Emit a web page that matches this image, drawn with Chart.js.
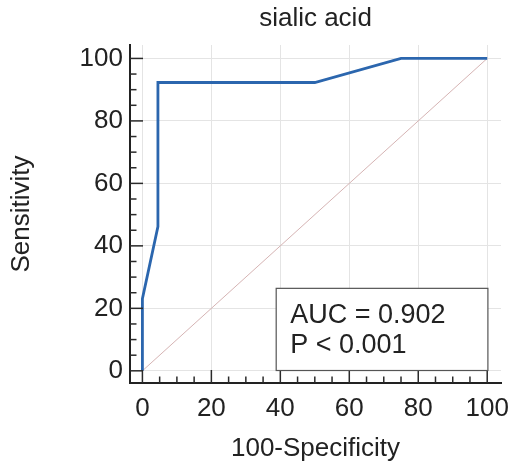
<!DOCTYPE html>
<html>
<head>
<meta charset="utf-8">
<script src="https://cdn.jsdelivr.net/npm/chart.js@4/dist/chart.umd.min.js"></script>
<style>
  html, body { margin: 0; padding: 0; background: #fff; }
  #wrap { width: 510px; height: 463px; }
</style>
</head>
<body>
<div id="wrap"><canvas id="c" width="510" height="463"></canvas></div>
<script>
// ---- data ----
const chartTitle = "sialic acid";
const xAxisTitle = "100-Specificity";
const yAxisTitle = "Sensitivity";
const specComplement = [0, 0, 4.5, 4.5, 50, 75, 100];      // 100-Specificity
const sensitivity    = [0, 23.1, 46.2, 92.3, 92.3, 100, 100];
const refX = [0, 100];
const refY = [0, 100];
const xTicks = [0, 20, 40, 60, 80, 100];
const yTicks = [0, 20, 40, 60, 80, 100];
const statLines = ["AUC = 0.902", "P < 0.001"];

const FONT = "'Liberation Sans', Arial, Helvetica, sans-serif";

const bgPlugin = {
  id: 'bg',
  beforeDraw(chart) {
    const ctx = chart.ctx;
    ctx.save();
    ctx.fillStyle = '#fff';
    ctx.fillRect(0, 0, chart.width, chart.height);
    ctx.restore();
  }
};

const inwardTicks = {
  id: 'inwardTicks',
  afterDatasetsDraw(chart) {
    const ctx = chart.ctx;
    const xs = chart.scales.x, ys = chart.scales.y;
    const ca = chart.chartArea;
    ctx.save();
    ctx.strokeStyle = '#2a2a2a';
    ctx.lineWidth = 1.5;
    for (let v = 0; v <= 100; v += 5) {
      const major = v % 20 === 0;
      const len = major ? 13 : 6.5;
      const py = ys.getPixelForValue(v);
      ctx.beginPath();
      ctx.moveTo(ca.left, py);
      ctx.lineTo(ca.left + len, py);
      ctx.stroke();
      const px = xs.getPixelForValue(v);
      ctx.beginPath();
      ctx.moveTo(px, ca.bottom);
      ctx.lineTo(px, ca.bottom - len);
      ctx.stroke();
    }
    // stats box
    const x0 = xs.getPixelForValue(38.8), x1 = xs.getPixelForValue(100.2);
    const y0 = ys.getPixelForValue(26.4), y1 = ys.getPixelForValue(0.1);
    ctx.fillStyle = '#fff';
    ctx.fillRect(x0, y0, x1 - x0, y1 - y0);
    ctx.strokeStyle = '#555';
    ctx.lineWidth = 1.2;
    ctx.strokeRect(x0, y0, x1 - x0, y1 - y0);
    ctx.fillStyle = '#222';
    ctx.font = '27px ' + FONT;
    ctx.textBaseline = 'alphabetic';
    ctx.textAlign = 'left';
    statLines.forEach((t, i) => {
      ctx.fillText(t, x0 + 14, y0 + 35 + i * 30);
    });
    ctx.restore();
  }
};

new Chart(document.getElementById('c'), {
  type: 'scatter',
  data: {
    datasets: [
      {
        data: refX.map((x, i) => ({x, y: refY[i]})),
        showLine: true,
        borderColor: '#d6b4b4',
        borderWidth: 1,
        pointRadius: 0,
        order: 2
      },
      {
        data: specComplement.map((x, i) => ({x, y: sensitivity[i]})),
        showLine: true,
        borderColor: '#2b66ae',
        borderWidth: 2.8,
        pointRadius: 0,
        order: 1
      }
    ]
  },
  options: {
    responsive: false,
    animation: false,
    layout: { padding: { left: 0, right: 9, top: 0, bottom: 0 } },
    plugins: {
      legend: { display: false },
      tooltip: { enabled: false },
      title: {
        display: true,
        text: chartTitle,
        fullSize: false,
        color: '#222',
        font: { family: FONT, size: 26, weight: 'normal', lineHeight: 1.2 },
        padding: { top: 3.4, bottom: 10.4 }
      }
    },
    scales: {
      x: {
        type: 'linear',
        min: -3.6, max: 104,
        afterBuildTicks(s) { s.ticks = xTicks.map(v => ({value: v})); },
        afterFit(s) { s.height = 80; s.paddingLeft = 0; s.paddingRight = 0; },
        grid: { color: '#e4e4e4', lineWidth: 1, drawTicks: false },
        border: { display: true, color: '#222', width: 2 },
        ticks: { color: '#222', padding: 10, font: { family: FONT, size: 26 }, maxRotation: 0 },
        title: { display: true, text: xAxisTitle, color: '#222',
                 font: { family: FONT, size: 26, lineHeight: 1.1 },
                 padding: { top: 0, bottom: 0 } }
      },
      y: {
        type: 'linear',
        min: -3.9, max: 104.3,
        afterBuildTicks(s) { s.ticks = yTicks.map(v => ({value: v})); },
        afterFit(s) { s.width = 130; s.paddingTop = 0; s.paddingBottom = 0; },
        grid: { color: '#e4e4e4', lineWidth: 1, drawTicks: false },
        border: { display: true, color: '#222', width: 2 },
        ticks: { color: '#222', padding: 7, font: { family: FONT, size: 26 } },
        title: { display: true, text: yAxisTitle, color: '#222',
                 font: { family: FONT, size: 26, lineHeight: 1.1 },
                 padding: { top: 7.3, bottom: 0 } }
      }
    }
  },
  plugins: [bgPlugin, inwardTicks]
});
</script>
</body>
</html>
